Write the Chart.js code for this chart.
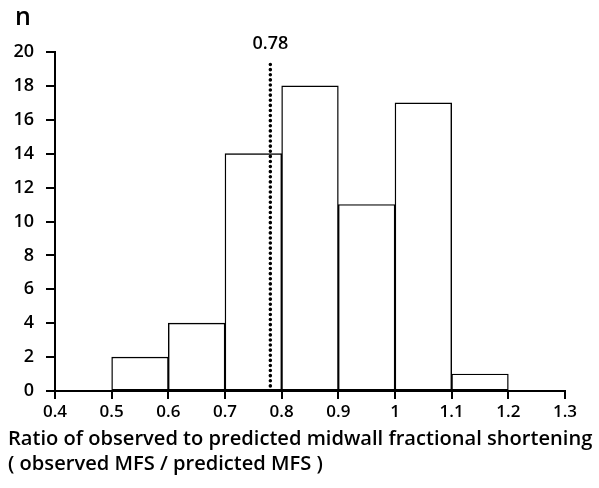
<!DOCTYPE html>
<html><head><meta charset="utf-8">
<script src="https://cdn.jsdelivr.net/npm/chart.js@4"></script>
<style>html,body{margin:0;padding:0;background:#fff}#wrap{width:599px;height:488px}</style>
</head><body><div id="wrap"><canvas id="c" width="599" height="488"></canvas></div>
<script>
const binCenters = [0.55, 0.65, 0.75, 0.85, 0.95, 1.05, 1.15];
const counts = [2, 4, 14, 18, 11, 17, 1];
const xTicks = [0.4, 0.5, 0.6, 0.7, 0.8, 0.9, 1.0, 1.1, 1.2, 1.3];
const yTicks = [0, 2, 4, 6, 8, 10, 12, 14, 16, 18, 20];
const refValue = 0.78;
const refLineTop = 19.4;
const refLabel = "0.78";
const yAxisLabel = "n";
const xTitleLines = ["Ratio of observed to predicted midwall fractional shortening", "( observed MFS / predicted MFS )"];

const FONT = "'Open Sans', sans-serif";

const textPlugin = {
  id: 'texts',
  afterDraw(chart) {
    const ctx = chart.ctx, xs = chart.scales.x, ys = chart.scales.y;
    ctx.save();
    ctx.fillStyle = '#000';
    ctx.textBaseline = 'middle';
    ctx.textAlign = 'center';
    ctx.font = "600 18px " + FONT;
    ctx.fillText(refLabel, xs.getPixelForValue(refValue), ys.getPixelForValue(20) - 8);
    ctx.textAlign = 'left';
    ctx.font = "600 25px " + FONT;
    ctx.fillText(yAxisLabel, 15, 18);
    ctx.font = "600 20.1px " + FONT;
    ctx.fillText(xTitleLines[0], 8, 439);
    ctx.fillText(xTitleLines[1], 8, 464);
    ctx.restore();
  }
};

new Chart(document.getElementById('c'), {
  type: 'bar',
  data: {
    datasets: [
      {
        type: 'bar',
        data: binCenters.map((x, i) => ({x: x, y: counts[i]})),
        backgroundColor: '#fff',
        borderColor: '#000',
        borderWidth: 1.4,
        borderSkipped: false,
        barPercentage: 1,
        categoryPercentage: 1,
        order: 2
      },
      {
        type: 'line',
        data: [{x: refValue, y: 0}, {x: refValue, y: refLineTop}],
        borderColor: '#000',
        borderWidth: 3.5,
        borderDash: [0.1, 5],
        borderCapStyle: 'round',
        pointRadius: 0,
        fill: false,
        order: 1
      }
    ]
  },
  options: {
    responsive: false,
    animation: false,
    events: [],
    layout: {padding: {left: 0, right: 34, top: 52, bottom: 0}},
    plugins: {legend: {display: false}, tooltip: {enabled: false}},
    scales: {
      x: {
        type: 'linear',
        offset: false,
        min: 0.4, max: 1.3,
        afterBuildTicks(s) { s.ticks = xTicks.map(v => ({value: v})); },
        afterFit(s) { s.height = 97; },
        grid: {offset: false, drawOnChartArea: false, drawTicks: true, tickLength: 8, color: '#000', lineWidth: 2},
        border: {color: '#000', width: 2},
        ticks: {color: '#000', padding: 3, font: {family: FONT, size: 17, weight: '600'},
          callback: v => String(Math.round(v * 10) / 10)}
      },
      y: {
        type: 'linear',
        min: 0, max: 20,
        afterBuildTicks(s) { s.ticks = yTicks.map(v => ({value: v})); },
        afterFit(s) { s.width = 55; },
        grid: {drawOnChartArea: false, drawTicks: true, tickLength: 9, color: '#000', lineWidth: 2},
        border: {color: '#000', width: 2},
        ticks: {color: '#000', padding: 12, font: {family: FONT, size: 18, weight: '600'}}
      }
    }
  },
  plugins: [textPlugin]
});
</script></body></html>
